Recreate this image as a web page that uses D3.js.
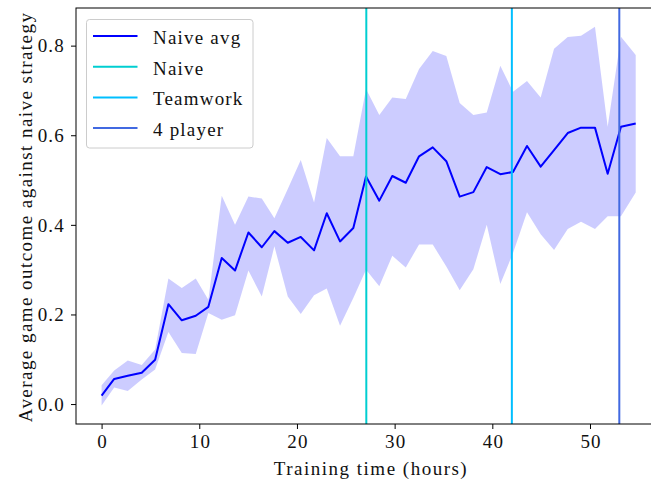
<!DOCTYPE html>
<html>
<head>
<meta charset="utf-8">
<script src="https://cdn.jsdelivr.net/npm/d3@7"></script>
<style>
  html, body { margin: 0; padding: 0; background: #fff; }
  svg { display: block; }
  text { font-family: "Liberation Serif", "DejaVu Serif", serif; fill: #111; letter-spacing: 1.2px; }
</style>
</head>
<body>
<svg id="chart" width="651" height="482"></svg>
<script>
// ---- Data ----
const hours = [0.0, 1.29, 2.68, 4.11, 5.48, 6.84, 8.21, 9.64, 10.93, 12.30, 13.66, 15.03, 16.40, 17.69,
  19.06, 20.39, 21.75, 23.05, 24.41, 25.77, 27.07, 28.43, 29.76, 31.14, 32.50, 33.90, 35.29, 36.66,
  38.06, 39.43, 40.82, 42.12, 43.55, 44.95, 46.32, 47.72, 49.08, 50.51, 51.81, 53.17, 54.68];
const naiveAvg = [0.019, 0.056, 0.063, 0.070, 0.099, 0.223, 0.187, 0.197, 0.217, 0.326, 0.298, 0.383,
  0.350, 0.386, 0.360, 0.373, 0.343, 0.426, 0.363, 0.393, 0.508, 0.454, 0.509, 0.494, 0.553, 0.573,
  0.542, 0.463, 0.473, 0.529, 0.513, 0.518, 0.576, 0.530, 0.567, 0.605, 0.617, 0.617, 0.514, 0.619, 0.626];
const upper = [0.042, 0.075, 0.097, 0.087, 0.122, 0.280, 0.259, 0.280, 0.233, 0.465, 0.400, 0.463,
  0.459, 0.415, 0.480, 0.545, 0.450, 0.594, 0.553, 0.553, 0.703, 0.645, 0.684, 0.681, 0.748, 0.788,
  0.777, 0.672, 0.645, 0.651, 0.755, 0.697, 0.721, 0.684, 0.793, 0.819, 0.822, 0.842, 0.619, 0.820, 0.779];
const lower = [-0.003, 0.037, 0.029, 0.055, 0.077, 0.161, 0.114, 0.112, 0.203, 0.188, 0.198, 0.298,
  0.240, 0.352, 0.240, 0.201, 0.243, 0.258, 0.175, 0.237, 0.300, 0.263, 0.331, 0.305, 0.356, 0.356,
  0.307, 0.254, 0.301, 0.400, 0.268, 0.337, 0.428, 0.379, 0.344, 0.391, 0.407, 0.391, 0.419, 0.419, 0.472];
const vlineNames = ["Naive", "Teamwork", "4 player"];
const vlineHours = [27.1, 42.0, 53.0];
const vlineColors = ["#00CED1", "#00BFFF", "#4169E1"];
const xTicks = [0, 10, 20, 30, 40, 50];
const yTicks = [0.0, 0.2, 0.4, 0.6, 0.8];

// ---- Layout ----
const svg = d3.select("#chart");
const mLeft = 76, mTop = 8, mBottom = 424, mRight = 665.7;
const x = d3.scaleLinear().domain([-2.62, 57.75]).range([mLeft, mRight]);
const y = d3.scaleLinear().domain([-0.0445, 0.884]).range([mBottom, mTop]);

const FS = 19;

// band
const area = d3.area()
  .x((d, i) => x(hours[i]))
  .y0((d, i) => y(lower[i]))
  .y1((d, i) => y(upper[i]));
svg.append("path").datum(hours).attr("d", area)
  .attr("fill", "blue").attr("fill-opacity", 0.2).attr("stroke", "none");

// mean line
const line = d3.line().x((d, i) => x(hours[i])).y((d, i) => y(naiveAvg[i]));
svg.append("path").datum(hours).attr("d", line)
  .attr("fill", "none").attr("stroke", "#0000FF").attr("stroke-width", 2)
  .attr("stroke-linejoin", "round");

// vertical lines
vlineHours.forEach((h, i) => {
  svg.append("line")
    .attr("x1", x(h)).attr("x2", x(h)).attr("y1", mTop).attr("y2", mBottom)
    .attr("stroke", vlineColors[i]).attr("stroke-width", 2);
});

// axes
const xAxis = d3.axisBottom(x).tickValues(xTicks).tickFormat(d3.format("d")).tickSizeOuter(0).tickSize(5);
const yAxis = d3.axisLeft(y).tickValues(yTicks).tickFormat(d3.format(".1f")).tickSizeOuter(0).tickSize(5).tickPadding(6);
const gx = svg.append("g").attr("transform", `translate(0,${mBottom})`).call(xAxis);
const gy = svg.append("g").attr("transform", `translate(${mLeft},0)`).call(yAxis);
[gx, gy].forEach(g => {
  g.select(".domain").remove();
  g.selectAll(".tick line").attr("stroke", "#000").attr("stroke-width", 1);
  g.selectAll(".tick text").attr("font-size", FS).attr("fill", "#111");
});
gx.selectAll(".tick text").attr("y", 23.5).attr("dy", 0).attr("dx", 0.6);
gy.selectAll(".tick text").attr("dy", "0.33em");

// frame
svg.append("rect").attr("x", mLeft).attr("y", mTop).attr("width", mRight - mLeft).attr("height", mBottom - mTop)
  .attr("fill", "none").attr("stroke", "#000").attr("stroke-width", 1);

// axis labels
svg.append("text").attr("x", 371).attr("y", 475).style("letter-spacing", "1.5px")
  .attr("text-anchor", "middle").attr("font-size", FS).text("Training time (hours)");
svg.append("text").attr("transform", `translate(31.5,${(mTop + mBottom) / 2 + 1}) rotate(-90)`)
  .style("letter-spacing", "1.45px")
  .attr("text-anchor", "middle").attr("font-size", FS).text("Average game outcome against naive strategy");

// legend
const lg = svg.append("g");
lg.append("rect").attr("x", 86.5).attr("y", 19.5).attr("width", 166.5).attr("height", 128.5)
  .attr("rx", 3).attr("fill", "#fff").attr("fill-opacity", 0.8).attr("stroke", "#ccc").attr("stroke-width", 1);
const legNames = ["Naive avg"].concat(vlineNames);
const legColors = ["#0000FF"].concat(vlineColors);
legNames.forEach((n, i) => {
  const yy = 36 + i * 30.7;
  lg.append("line").attr("x1", 93).attr("x2", 137.5).attr("y1", yy).attr("y2", yy)
    .attr("stroke", legColors[i]).attr("stroke-width", 2);
  lg.append("text").attr("x", 153).attr("y", yy + 8).attr("font-size", FS).text(n);
});
</script>
</body>
</html>
